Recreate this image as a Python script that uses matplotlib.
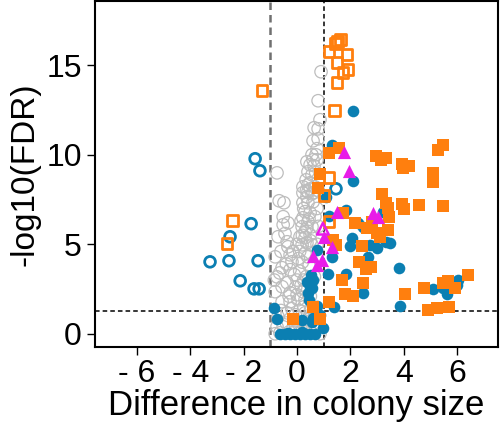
import numpy as np
import matplotlib
matplotlib.use("Agg")
import matplotlib.pyplot as plt

plt.rcParams['font.family'] = ['Liberation Sans', 'DejaVu Sans']

# colours of the groups
BLUE = '#0b7fb2'
ORANGE = '#ff7f0e'
MAGENTA = '#e81ce8'
GREY = '#bdbdbd'

FDR_LINE = 1.3   # -log10(0.05)

# not significant (grey open circles)
grey_x = [0.90, 0.79, 0.86, 0.64, 0.79, 0.60, 0.79, 0.75, 0.56, 0.71, 0.37, 0.60, 0.75, 0.49, 0.64,
          -0.75, 0.41, 0.56, 0.34, 0.49, 0.22, 0.41, 0.67, 0.22, 0.41, 0.60, -0.67, -0.49, 0.37, 0.56,
          0.22, 0.41, 0.60, -0.52, -0.52, -0.34, 0.30, 0.49, 0.22, 0.41, 0.67, 0.19, 0.37, 0.56, -0.71,
          -0.37, 0.11, 0.30, 0.49, 0.19, 0.37, 0.56, -0.34, -0.82, -0.26, -0.19, -0.56, -0.26, -0.75, -0.56,
          -0.37, -0.82, -0.26, 0.00, 0.22, -0.56, -0.26, 0.04, 0.30, -0.71, -0.37, -0.07, 0.30, -0.75, -0.52,
          -0.15, 0.22, 0.60, 0.86, -0.82, -0.64,
          0.00, 0.10, 0.20, 0.30, 0.15, 0.35, 0.45, 0.05, -0.10, -0.05, 0.25, 0.40, 0.50, 0.30, 0.45,
          0.20, 0.10, -0.15, -0.40, -0.60, -0.45, -0.20, 0.10, 0.40, -0.40, 0.00, 0.25, -0.60, 0.50, 0.10,
          -0.30, 0.35, 0.55, -0.10, 0.65, 0.70, 0.30, 0.50, -0.30, 0.15, 0.25, 0.00, 0.35, 0.50, -0.65,
          -0.85, 0.65, 0.75, 0.80, 0.75, 0.80, 0.70]
grey_y = [14.64, 13.02, 11.96, 11.51, 11.45, 10.78, 10.89, 10.34, 10.00, 10.00, 9.61, 9.72, 9.72, 9.44, 9.39,
          8.99, 9.05, 8.88, 8.60, 8.44, 8.21, 8.32, 8.21, 7.88, 7.93, 7.88, 7.43, 7.32, 7.65, 7.82,
          7.32, 7.32, 7.37, 6.54, 6.09, 6.20, 6.82, 6.76, 6.48, 6.26, 6.54, 5.98, 5.92, 5.98, 5.42,
          5.14, 5.42, 5.36, 5.53, 4.97, 5.08, 4.97, 4.86, 4.30, 4.41, 4.02, 3.69, 3.58, 3.18, 2.63,
          2.85, 2.35, 2.29, 2.18, 2.35, 1.79, 1.79, 1.90, 1.90, 0.95, 1.17, 1.06, 1.17, 0.39, 0.39,
          0.34, 0.34, 0.34, 0.00, 0.00, 0.05,
          3.00, 3.50, 4.00, 4.50, 2.70, 3.20, 3.80, 4.20, 3.30, 2.60, 3.00, 4.30, 5.20, 5.70, 6.40,
          5.50, 4.60, 4.60, 3.90, 4.60, 5.60, 1.40, 1.30, 0.80, 0.60, 0.70, 1.50, 1.30, 1.30, 0.10,
          0.10, 0.10, 0.05, 0.10, 1.00, 0.40, 2.50, 2.10, 2.10, 6.30, 7.00, 5.00, 8.00, 8.10, 3.40,
          3.00, 3.20, 5.00, 6.00, 7.00, 8.00, 9.00]

# blue open circles
bo_x = [-1.57, -1.39, -1.72, -2.51, -3.26, -2.55, -1.46, -2.13, -1.61, -1.42, 1.46]
bo_y = [9.78, 9.11, 6.15, 5.42, 4.02, 4.08, 4.08, 2.96, 2.51, 2.51, 8.10]

# blue filled circles
bf_x = [2.10, 1.31, 2.10, 1.09, 1.84, 1.20, 3.22, 2.28, 2.47, 2.06, 1.99, 2.73, 3.00, 3.33, 3.48,
        2.66, 0.75, 1.31, 3.82, 1.16, 1.84, 0.37, 0.49, 0.60, 0.41, 0.56, 0.52, 0.45, 2.47, 5.09,
        6.03, 5.62, 5.47, 5.99, 1.39, 3.86, 0.75, -0.86, -0.75, 0.86, 0.19, 0.56, 0.97, 0.60,
        -0.64, -0.45, -0.26, -0.07, 0.11, 0.30, 0.49, 0.67, 0.20, -0.35]
bf_y = [12.46, 10.56, 8.55, 7.65, 6.93, 6.59, 6.82, 6.20, 5.98, 5.36, 4.92, 4.97, 4.80, 5.14, 5.08,
        4.30, 4.69, 4.30, 3.69, 3.35, 3.35, 2.91, 2.63, 3.02, 2.29, 2.57, 3.30, 1.90, 2.29, 2.51,
        3.02, 2.23, 2.57, 2.74, 1.51, 1.56, 1.56, 1.45, 0.84, 1.06, 0.78, 0.67, 0.34, 0.89,
        0.00, 0.00, 0.00, 0.00, 0.00, 0.00, 0.00, 0.00, 0.10, 0.05]

# orange open squares
so_x = [1.45, 1.62, 1.52, 1.20, 1.87, 1.50, 1.72, 1.91, 1.50, -1.31, 1.39, 1.20, 1.01, 1.20, -2.43, -2.62]
so_y = [16.20, 16.45, 16.35, 15.75, 15.59, 15.14, 14.58, 14.75, 14.02, 13.58, 12.46, 8.72, 7.71, 6.26, 6.31, 5.03]

# orange filled squares
sf_x = [1.57, 1.20, 2.96, 3.15, 3.33, 3.93, 3.97, 4.19, 5.28, 5.47, 5.09, 5.09, 0.86, 0.79, 3.18,
        3.33, 3.41, 3.93, 4.01, 4.57, 5.47, 1.72, 2.17, 2.62, 2.81, 3.45, 3.41, 3.00, 3.11, 1.35,
        1.46, 2.43, 2.32, 2.58, 2.77, 1.69, 2.47, 1.80, 2.10, 4.04, 4.76, 5.47, 5.66, 5.92, 6.40,
        4.91, 5.24, 5.69, 1.20, 0.60, -0.15, 0.86]
sf_y = [10.39, 10.11, 9.94, 9.72, 9.83, 9.50, 9.27, 9.39, 10.28, 10.56, 8.99, 8.49, 8.94, 8.16, 7.82,
        7.32, 7.04, 7.26, 6.98, 7.21, 7.15, 6.76, 6.20, 5.92, 6.26, 6.54, 5.81, 5.64, 5.42, 5.25,
        4.97, 4.92, 4.02, 3.63, 3.74, 3.02, 2.85, 2.23, 2.12, 2.23, 2.57, 2.85, 2.96, 2.57, 3.30,
        1.34, 1.45, 1.51, 1.79, 1.51, 0.84, 0.84]

# magenta triangles
tf_x = [1.76, 1.95, 1.50, 2.85, 3.03, 1.01, 1.31, 0.60, 0.94, 0.75]
tf_y = [10.17, 9.11, 6.82, 6.76, 6.54, 5.42, 4.86, 4.36, 4.13, 3.85]
to_x = [0.97]
to_y = [5.87]

x_ticks = [-6, -4, -2, 0, 2, 4, 6]
x_labels = ['- 6', '- 4', '- 2', '0', '2', '4', '6']
y_ticks = [0, 5, 10, 15]

fig = plt.figure(figsize=(5, 4.33), dpi=100)
ax = fig.add_axes([0.19, 0.199, 0.806, 0.799])

ax.scatter(grey_x, grey_y, s=80, facecolors='none', edgecolors=GREY, linewidths=0.9, zorder=2)
ax.scatter(bo_x, bo_y, s=60, facecolors='none', edgecolors=BLUE, linewidths=2, zorder=3)
ax.scatter(bf_x, bf_y, s=70, color=BLUE, linewidths=0, zorder=3)
ax.scatter(sf_x, sf_y, s=70, marker='s', color=ORANGE, linewidths=0, zorder=4)
ax.scatter(so_x, so_y, s=60, marker='s', facecolors='none', edgecolors=ORANGE, linewidths=2, zorder=4)
ax.scatter(tf_x, tf_y, s=90, marker='^', color=MAGENTA, linewidths=0, zorder=5)
ax.scatter(to_x, to_y, s=70, marker='^', facecolors='none', edgecolors=MAGENTA, linewidths=1.8, zorder=5)

ax.axvline(-1, color='#707070', linestyle=(0, (3, 2)), linewidth=1.8, zorder=1)
ax.axvline(1, color='black', linestyle=(0, (3, 2)), linewidth=1.1, zorder=1)
ax.axhline(FDR_LINE, color='black', linestyle=(0, (3, 2)), linewidth=1.1, zorder=1)

ax.set_xlim(-7.57, 7.53)
ax.set_ylim(-0.73, 18.6)
ax.set_xticks(x_ticks)
ax.set_xticklabels(x_labels)
ax.set_yticks(y_ticks)
ax.tick_params(axis='both', labelsize=23, length=6, width=1, direction='out')
ax.tick_params(axis='x', pad=3)
for sp in ax.spines.values():
    sp.set_linewidth(1.5)

ax.set_xlabel('Difference in colony size', fontsize=25, labelpad=0)
ax.set_ylabel('-log10(FDR)', fontsize=24, labelpad=4)

fig.savefig('out.png', dpi=100)
